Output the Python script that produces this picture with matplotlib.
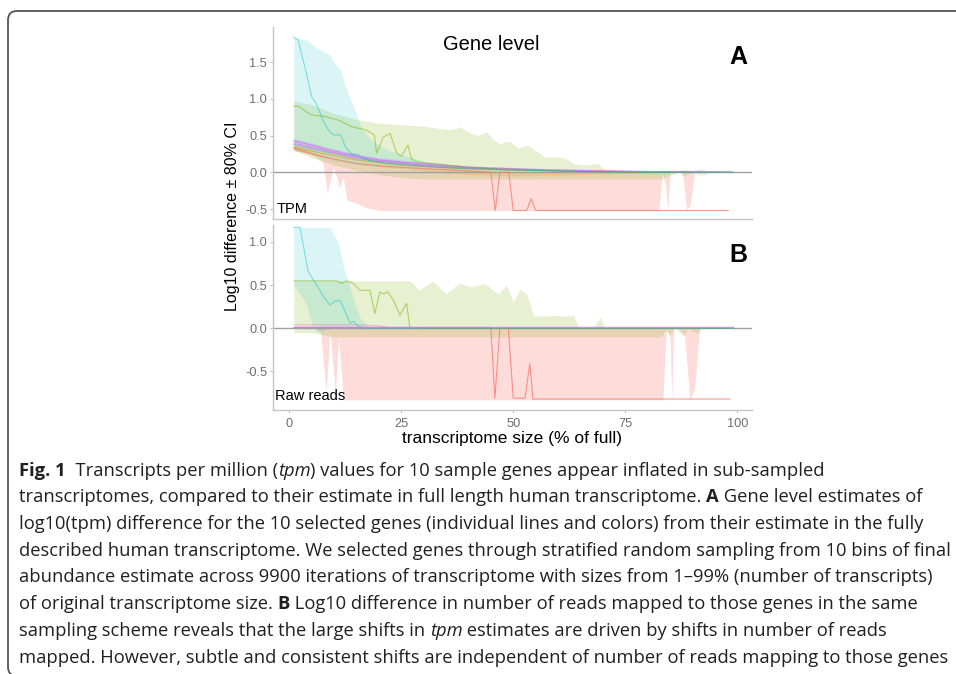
import matplotlib
matplotlib.use('Agg')
import matplotlib.pyplot as plt
from matplotlib.patches import FancyBboxPatch

# ============================================================
# DATA
# ============================================================
# ---- Panel A : TPM ----
a_cyan_x = [1, 2, 4, 5, 6, 7.5, 9, 10, 11.5, 12.5, 14, 15, 16, 18, 22, 30, 40, 50, 60, 70, 80, 90, 99]
a_cyan_y = [1.84, 1.80, 1.30, 1.03, 0.94, 0.71, 0.55, 0.51, 0.51, 0.35, 0.24, 0.25, 0.21, 0.16, 0.12,
            0.08, 0.05, 0.03, 0.02, 0.01, 0.0, 0.0, 0.0]
a_cyan_hi = [1.85, 1.83, 1.80, 1.75, 1.70, 1.65, 1.60, 1.50, 1.39, 1.17, 0.94, 0.80, 0.62, 0.45, 0.30,
             0.15, 0.08, 0.05, 0.03, 0.02, 0.01, 0.01, 0.01]
a_cyan_lo = [0.30, 0.30, 0.28, 0.26, 0.24, 0.20, 0.18, 0.16, 0.15, 0.13, 0.12, 0.11, 0.10, 0.09, 0.07,
             0.05, 0.03, 0.02, 0.01, 0.0, 0.0, 0.0, 0.0]

a_lime_x = [1, 2, 5, 8, 11, 14, 17, 19, 19.5, 21, 22.5, 24, 25, 26.5, 27.2, 28, 30, 35, 40, 45, 50,
            55, 60, 65, 70, 75, 80, 85, 90, 95, 99]
a_lime_y = [0.90, 0.90, 0.78, 0.76, 0.71, 0.62, 0.58, 0.51, 0.26, 0.48, 0.53, 0.26, 0.22, 0.37, 0.19,
            0.15, 0.13, 0.10, 0.07, 0.05, 0.04, 0.03, 0.02, 0.01, 0.01, 0.0, 0.0, 0.0, 0.0, 0.0, 0.0]
a_lime_band_x = [1, 5, 10, 15, 20, 25, 30, 33, 36, 38, 40, 42, 44, 45.5, 47, 48, 49.3, 51, 53, 55,
                 57, 60, 62, 63.4, 66, 69, 70, 75, 80, 83, 85, 87, 88, 90, 92, 94, 99]
a_lime_hi = [0.97, 0.92, 0.80, 0.72, 0.67, 0.65, 0.63, 0.60, 0.58, 0.62, 0.55, 0.50, 0.55, 0.45, 0.38,
             0.42, 0.42, 0.33, 0.37, 0.30, 0.21, 0.21, 0.18, 0.12, 0.10, 0.12, 0.05, 0.02, 0.01, 0.0,
             0.03, 0.0, 0.04, 0.02, 0.05, 0.0, 0.0]
a_lime_lo = [0.30, 0.20, 0.10, 0.03, -0.03, -0.07, -0.09, -0.09, -0.09, -0.09, -0.09, -0.09, -0.09,
             -0.09, -0.09, -0.09, -0.09, -0.09, -0.09, -0.09, -0.09, -0.09, -0.09, -0.09, -0.09,
             -0.09, -0.09, -0.09, -0.09, -0.09, -0.04, 0.0, -0.05, 0.0, -0.04, 0.0, 0.0]

a_red_x = [1, 5, 10, 15, 20, 30, 40, 45, 46, 47, 49, 50, 53, 54, 55, 98]
a_red_y = [0.33, 0.25, 0.18, 0.12, 0.09, 0.05, 0.02, 0.0, -0.52, 0.0, 0.0, -0.52, -0.52, -0.36,
           -0.52, -0.52]
a_red_band_x = [1, 5, 6, 7.5, 8.5, 9.8, 11.3, 12, 12.9, 15, 17, 20, 30, 40, 50, 60, 70, 80, 82.5,
                83.3, 84.0, 84.5, 85, 87.8, 88.7, 89.5, 90.5, 99]
a_red_hi = [0.36, 0.28, 0.26, 0.22, 0.20, 0.18, 0.16, 0.15, 0.14, 0.12, 0.11, 0.09, 0.05, 0.03, 0.01,
            0.01, 0.0, 0.0, 0.0, 0.0, 0.0, 0.0, 0.0, 0.0, 0.0, 0.0, 0.0, 0.0]
a_red_lo = [0.30, 0.24, 0.20, 0.14, -0.29, 0.08, -0.21, -0.06, -0.38, -0.42, -0.48, -0.52, -0.52,
            -0.52, -0.52, -0.52, -0.52, -0.52, -0.52, 0.0, -0.20, -0.52, 0.0, 0.0, -0.52, -0.45, 0.0, 0.0]

# bundle of low-shift genes (panel A)
a_bundle_x = [1, 3, 5, 8, 10, 13, 16, 20, 25, 30, 35, 40, 50, 60, 70, 80, 90, 99]
a_purple_y = [0.43, 0.40, 0.37, 0.32, 0.29, 0.25, 0.21, 0.17, 0.14, 0.11, 0.09, 0.07, 0.05, 0.03, 0.02, 0.01, 0.01, 0.0]
a_purple_hi = [0.46, 0.43, 0.40, 0.35, 0.32, 0.28, 0.24, 0.20, 0.17, 0.14, 0.11, 0.09, 0.06, 0.04, 0.03, 0.02, 0.01, 0.01]
a_purple_lo = [0.38, 0.35, 0.32, 0.28, 0.25, 0.21, 0.18, 0.14, 0.11, 0.08, 0.06, 0.05, 0.03, 0.02, 0.01, 0.0, 0.0, 0.0]
a_magenta_y = [0.40, 0.37, 0.34, 0.30, 0.27, 0.23, 0.20, 0.16, 0.13, 0.10, 0.08, 0.06, 0.04, 0.03, 0.02, 0.01, 0.0, 0.0]
a_blue_y = [0.38, 0.35, 0.32, 0.28, 0.26, 0.22, 0.18, 0.15, 0.12, 0.10, 0.08, 0.06, 0.04, 0.02, 0.01, 0.01, 0.0, 0.0]
a_orange_y = [0.35, 0.32, 0.29, 0.25, 0.23, 0.19, 0.16, 0.13, 0.10, 0.08, 0.06, 0.05, 0.03, 0.02, 0.01, 0.0, 0.0, 0.0]
a_orange_hi = [0.38, 0.35, 0.32, 0.28, 0.26, 0.22, 0.19, 0.16, 0.13, 0.10, 0.08, 0.06, 0.04, 0.03, 0.02, 0.01, 0.01, 0.0]
a_orange_lo = [0.30, 0.27, 0.24, 0.20, 0.18, 0.14, 0.11, 0.08, 0.05, 0.02, -0.01, -0.03, -0.05, -0.04, -0.02, -0.01, 0.0, 0.0]

# ---- Panel B : raw reads ----
b_cyan_x = [1, 2.4, 4.2, 6.1, 7.6, 9.1, 10.3, 11.4, 12.5, 13.6, 14.4, 15.5, 17, 99]
b_cyan_y = [1.17, 1.17, 0.66, 0.50, 0.37, 0.27, 0.32, 0.32, 0.19, 0.06, 0.08, 0.02, 0.0, 0.0]
b_cyan_band_x = [1, 3, 4, 5, 6, 8, 9.1, 9.8, 11, 12.1, 13.3, 14.5, 16, 18, 99]
b_cyan_hi = [1.17, 1.17, 1.17, 1.17, 1.17, 1.17, 1.17, 1.10, 0.99, 0.71, 0.52, 0.30, 0.10, 0.02, 0.0]
b_cyan_lo = [0.50, 0.35, 0.25, 0.05, -0.04, -0.02, 0.0, 0.0, 0.0, 0.0, 0.0, 0.0, 0.0, 0.0, 0.0]

b_lime_x = [1, 10.6, 11.7, 12.8, 14.3, 15.8, 18, 19.1, 20.2, 21, 22, 23.2, 24.7, 26.2, 26.9, 30, 99]
b_lime_y = [0.55, 0.55, 0.52, 0.55, 0.52, 0.44, 0.44, 0.17, 0.42, 0.40, 0.42, 0.33, 0.15, 0.29,
            0.01, 0.0, 0.0]
b_lime_band_x = [1, 5, 8, 10, 15, 20, 25, 27, 29, 32, 35, 38, 40.6, 43.6, 46.6, 48.5, 50, 51.5, 53,
                 54.5, 56, 60, 61, 63.5, 64.5, 66, 68, 69.4, 70.5, 83, 84, 85, 86, 88, 89, 91, 92, 99]
b_lime_hi = [0.55, 0.55, 0.55, 0.55, 0.55, 0.55, 0.55, 0.55, 0.44, 0.55, 0.40, 0.52, 0.48, 0.52, 0.40,
             0.50, 0.30, 0.45, 0.40, 0.15, 0.14, 0.15, 0.14, 0.15, 0.02, 0.0, 0.02, 0.13, 0.0, 0.0,
             0.0, 0.0, 0.0, 0.0, 0.0, 0.0, 0.0, 0.0]
b_lime_lo = [-0.05, -0.05, -0.08, -0.10, -0.10, -0.10, -0.10, -0.10, -0.10, -0.10, -0.10, -0.10,
             -0.10, -0.10, -0.10, -0.10, -0.10, -0.10, -0.10, -0.10, -0.10, -0.10, -0.10, -0.10,
             -0.10, -0.10, -0.10, -0.10, -0.10, -0.10, -0.02, -0.08, 0.0, -0.08, 0.0, -0.06, 0.0, 0.0]

b_red_x = [1, 45, 45.9, 47, 48.9, 50, 52.6, 53.7, 54.4, 98.4]
b_red_y = [0.01, 0.01, -0.81, 0.0, 0.0, -0.81, -0.81, -0.41, -0.82, -0.82]
b_red_band_x = [1, 6, 7, 8.2, 9.1, 10.3, 11, 12.1, 20, 40, 60, 80, 83.4, 84.2, 85, 85.4, 85.8, 87,
                88.3, 89.4, 90.5, 91.6, 99]
b_red_hi = [0.02, 0.02, 0.02, 0.02, 0.02, 0.02, 0.02, 0.02, 0.02, 0.01, 0.01, 0.01, 0.01, 0.0, 0.0,
            0.0, 0.0, 0.0, 0.0, 0.0, 0.0, 0.0, 0.0]
b_red_lo = [0.0, 0.0, -0.05, -0.73, -0.05, -0.75, -0.10, -0.83, -0.83, -0.83, -0.83, -0.83, -0.83,
            0.0, -0.10, -0.83, 0.0, 0.0, -0.10, -0.83, -0.70, 0.0, 0.0]

b_flat_x = [1, 10, 20, 40, 60, 80, 99]
b_purple_y = [0.01, 0.01, 0.01, 0.01, 0.01, 0.01, 0.01]
b_pink_x = [1, 5, 10, 15, 20, 22]
b_pink_y = [0.04, 0.04, 0.04, 0.04, 0.03, 0.01]

x_ticks = [0, 25, 50, 75, 100]
a_yticks = [-0.5, 0.0, 0.5, 1.0, 1.5]
b_yticks = [-0.5, 0.0, 0.5, 1.0]

caption = [
    [("Fig. 1", "bold", "normal"), ("  Transcripts per million (", "normal", "normal"),
     ("tpm", "normal", "italic"),
     (") values for 10 sample genes appear inflated in sub-sampled", "normal", "normal")],
    [("transcriptomes, compared to their estimate in full length human transcriptome. ", "normal", "normal"),
     ("A", "bold", "normal"), (" Gene level estimates of", "normal", "normal")],
    [("log10(tpm) difference for the 10 selected genes (individual lines and colors) from their estimate in the fully",
      "normal", "normal")],
    [("described human transcriptome. We selected genes through stratified random sampling from 10 bins of final",
      "normal", "normal")],
    [("abundance estimate across 9900 iterations of transcriptome with sizes from 1\u201399% (number of transcripts)",
      "normal", "normal")],
    [("of original transcriptome size. ", "normal", "normal"), ("B", "bold", "normal"),
     (" Log10 difference in number of reads mapped to those genes in the same", "normal", "normal")],
    [("sampling scheme reveals that the large shifts in ", "normal", "normal"), ("tpm", "normal", "italic"),
     (" estimates are driven by shifts in number of reads", "normal", "normal")],
    [("mapped. However, subtle and consistent shifts are independent of number of reads mapping to those genes",
      "normal", "normal")],
]

# ============================================================
# STYLE
# ============================================================
W, H = 956, 674
RED, LIME, CYAN = '#F8766D', '#7CAE00', '#00BFC4'
PURPLE, MAGENTA, BLUE, ORANGE = '#C77CFF', '#FF61C3', '#619CFF', '#E58700'
SPINE = '#C4C4C4'
TICKC = '#6E6E6E'
BAND_A = 0.18
CYAN_BAND_A = 0.14
LINE_A = 0.5
plt.rcParams['font.family'] = ['Liberation Sans', 'DejaVu Sans']


def fx(x):
    return x / W


def fy(y):
    return 1 - y / H


fig = plt.figure(figsize=(W / 100, H / 100), dpi=100)

axA = fig.add_axes([fx(272.7), fy(219), (752 - 272.7) / W, (219 - 27) / H])
axB = fig.add_axes([fx(272.7), fy(410), (752 - 272.7) / W, (410 - 225) / H])

# ---- panel A ----
axA.fill_between(a_red_band_x, a_red_lo, a_red_hi, color=RED, alpha=0.25, lw=0)
axA.fill_between(a_lime_band_x, a_lime_lo, a_lime_hi, color=LIME, alpha=BAND_A, lw=0)
axA.fill_between(a_cyan_x, a_cyan_lo, a_cyan_hi, color=CYAN, alpha=CYAN_BAND_A, lw=0)
axA.fill_between(a_bundle_x, a_purple_lo, a_purple_hi, color=PURPLE, alpha=0.3, lw=0)
axA.fill_between(a_bundle_x, a_orange_lo, a_orange_hi, color=ORANGE, alpha=0.15, lw=0)
axA.axhline(0, color='#A0A0A0', lw=1.0, zorder=1)
axA.plot(a_bundle_x, a_orange_y, color=ORANGE, lw=0.8, alpha=LINE_A)
axA.plot(a_bundle_x, a_blue_y, color=BLUE, lw=0.8, alpha=LINE_A)
axA.plot(a_bundle_x, a_magenta_y, color=MAGENTA, lw=0.8, alpha=LINE_A)
axA.plot(a_bundle_x, a_purple_y, color=PURPLE, lw=0.9, alpha=0.75)
axA.plot(a_red_x, a_red_y, color=RED, lw=0.8, alpha=0.75)
axA.plot(a_lime_x, a_lime_y, color=LIME, lw=0.8, alpha=LINE_A)
axA.plot(a_cyan_x, a_cyan_y, color=CYAN, lw=0.8, alpha=0.45)

# ---- panel B ----
axB.fill_between(b_red_band_x, b_red_lo, b_red_hi, color=RED, alpha=0.25, lw=0)
axB.fill_between(b_lime_band_x, b_lime_lo, b_lime_hi, color=LIME, alpha=BAND_A, lw=0)
axB.fill_between(b_cyan_band_x, b_cyan_lo, b_cyan_hi, color=CYAN, alpha=CYAN_BAND_A, lw=0)
axB.axhline(0, color='#A0A0A0', lw=1.0, zorder=1)
axB.plot(b_pink_x, b_pink_y, color=MAGENTA, lw=0.8, alpha=0.4)
axB.plot(b_red_x, b_red_y, color=RED, lw=0.8, alpha=0.75)
axB.plot(b_lime_x, b_lime_y, color=LIME, lw=0.8, alpha=LINE_A)
axB.plot(b_cyan_x, b_cyan_y, color=CYAN, lw=0.8, alpha=0.45)
axB.plot(b_flat_x, b_purple_y, color=PURPLE, lw=1.0, alpha=0.8)

for ax, yl, yt in [(axA, (-0.636, 1.98), a_yticks), (axB, (-0.947, 1.197), b_yticks)]:
    ax.set_xlim(-3.7, 103.3)
    ax.set_ylim(*yl)
    ax.set_yticks(yt)
    ax.set_yticklabels([f"{v:.1f}" for v in yt])
    ax.set_xticks(x_ticks)
    ax.spines['top'].set_visible(False)
    ax.spines['right'].set_visible(False)
    for s in ['left', 'bottom']:
        ax.spines[s].set_color(SPINE)
        ax.spines[s].set_linewidth(1.0)
    ax.tick_params(length=2, width=0.8, color=SPINE, labelsize=9.2, labelcolor=TICKC, pad=2)
    ax.set_facecolor('none')
axA.tick_params(axis='x', labelbottom=False, length=0)
axB.tick_params(axis='x', pad=4)

# ---- chart texts ----
fig.text(fx(491), fy(45), "Gene level", fontsize=14.5, ha='center', va='center')
fig.text(fx(738), fy(57), "A", fontsize=18, fontweight='bold', ha='center', va='center')
fig.text(fx(738), fy(255), "B", fontsize=18, fontweight='bold', ha='center', va='center')
fig.text(fx(276.5), fy(209), "TPM", fontsize=10.5, ha='left', va='center')
fig.text(fx(275), fy(396.5), "Raw reads", fontsize=10.5, ha='left', va='center')
fig.text(fx(232.5), fy(216), "Log10 difference \u00b1 80% CI", fontsize=11.5, rotation=90,
         ha='center', va='center')
fig.text(fx(512), fy(439), "transcriptome size (% of full)", fontsize=12.5, ha='center', va='center')

# ---- caption ----
cax = fig.add_axes([0, 0, 1, 1])
cax.set_xlim(0, W)
cax.set_ylim(H, 0)
cax.axis('off')
cax.set_zorder(-1)

CAP_FONT = ['Open Sans', 'DejaVu Sans']
CAP_FS = 12.7
CAP_COLOR = '#231F20'
CAP_X = 19
CAP_RIGHT = 950          # right edge of the longest caption line
y0, dy = 475.7, 26.7

cap_texts = []
for i, parts in enumerate(caption):
    prev = None
    line = []
    for txt, weight, style in parts:
        kw = dict(fontsize=CAP_FS, fontweight=weight, fontstyle=style, family=CAP_FONT,
                  color=CAP_COLOR, ha='left')
        if prev is None:
            prev = cax.text(CAP_X, y0 + i * dy, txt, va='baseline', **kw)
        else:
            prev = cax.annotate(txt, xy=(1, 0), xycoords=prev, va='bottom', **kw)
        line.append(prev)
    cap_texts.append(line)

# fit the caption block to the column width
renderer = fig.canvas.get_renderer()
widest = max(line[-1].get_window_extent(renderer).x1 for line in cap_texts) - CAP_X
scale = (CAP_RIGHT - CAP_X) / widest
for line in cap_texts:
    for t in line:
        t.set_fontsize(CAP_FS * scale)

# ---- rounded frame (top + left edges) ----
frame = FancyBboxPatch((8 / 100, -2 / 100), 9.9, (674 - 11 + 2) / 100,
                       boxstyle="round,pad=0,rounding_size=0.09",
                       transform=fig.dpi_scale_trans, fill=False,
                       edgecolor='#555555', lw=1.3)
fig.add_artist(frame)

fig.savefig("out.png", dpi=100)
